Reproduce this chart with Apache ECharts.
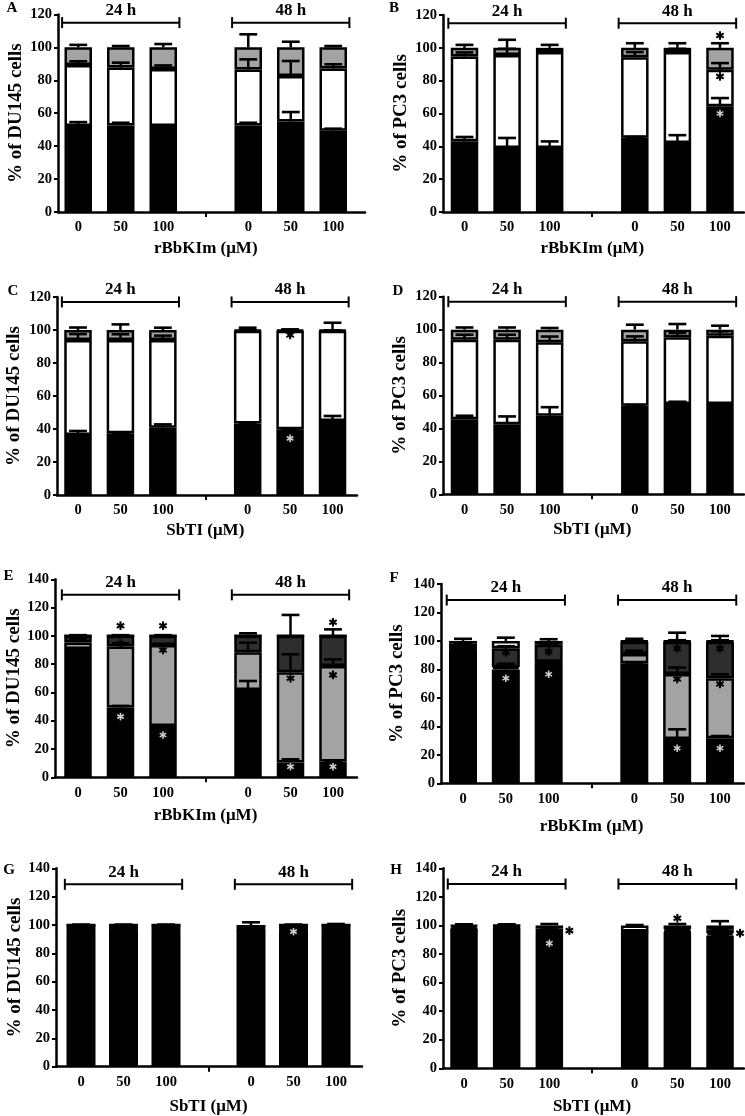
<!DOCTYPE html>
<html><head><meta charset="utf-8">
<script src="https://cdn.jsdelivr.net/npm/echarts@6/dist/echarts.min.js"></script>
<style>html,body{margin:0;padding:0;background:#fff}#c{width:745px;height:1116px}</style>
</head><body><div id="c"></div>
<script>
// ---------- shared labels ----------
const doseLabels = ['0', '50', '100', '', '0', '50', '100'];
const groupLabels = ['24 h', '48 h'];
const groupSpans = [[0, 2], [4, 6]];

// ---------- Panel A : DU145, rBbKIm, cell cycle ----------
const A_G1 = [52.2, 52.6, 52.2, 52.6, 55.0, 49.4];
const A_S = [37.1, 35.1, 34.6, 34.0, 27.6, 37.8];
const A_G2M = [10.7, 12.3, 13.2, 13.4, 17.4, 12.8];
const A_sdG1 = [2.4, 1.6, 0.4, 1.6, 5.7, 1.2];
const A_sdS = [2.2, 3.0, 2.2, 6.1, 9.1, 2.5];
const A_sdG2M = [1.5, 0.8, 2.0, 7.9, 3.4, 0.8];
const A_stars = [];

// ---------- Panel B : PC3, rBbKIm, cell cycle ----------
const B_G1 = [43.1, 39.0, 39.0, 45.3, 42.1, 64.4];
const B_S = [51.6, 56.7, 58.4, 49.0, 55.3, 22.2];
const B_G2M = [5.3, 4.3, 2.6, 5.7, 2.6, 13.4];
const B_sdG1 = [2.6, 6.1, 4.0, 0.4, 4.7, 5.0];
const B_sdS = [2.5, 3.7, 1.4, 3.1, 2.0, 4.1];
const B_sdG2M = [1.8, 4.9, 1.8, 2.8, 2.8, 2.8];
// [bar index, y value, colour 0=black 1=white, side 0=centre 1=right]
const B_stars = [[5, 107.5, 0, 0], [5, 82.6, 0, 0], [5, 60.0, 1, 0]];

// ---------- Panel C : DU145, SbTI, cell cycle ----------
const C_G1 = [36.4, 37.4, 40.8, 43.4, 39.8, 44.8];
const C_S = [57.6, 56.6, 53.2, 56.1, 59.7, 54.7];
const C_G2M = [6.0, 6.0, 6.0, 0.5, 0.5, 0.5];
const C_sdG1 = [2.4, 0.3, 2.0, 0.3, 0.3, 3.1];
const C_sdS = [3.5, 3.4, 2.6, 0.3, 0.3, 0.3];
const C_sdG2M = [1.5, 3.4, 1.4, 1.4, 0.4, 4.4];
const C_stars = [[4, 97.0, 0, 0], [4, 34.3, 1, 0]];

// ---------- Panel D : PC3, SbTI, cell cycle ----------
const D_G1 = [45.6, 42.6, 47.7, 53.8, 54.8, 54.8];
const D_S = [48.3, 51.3, 44.6, 39.1, 40.5, 41.5];
const D_G2M = [6.1, 6.1, 7.7, 7.1, 4.7, 3.7];
const D_sdG1 = [2.1, 4.7, 5.2, 0.4, 1.4, 0.4];
const D_sdS = [3.0, 3.0, 3.5, 3.0, 2.7, 2.7];
const D_sdG2M = [1.3, 1.3, 1.0, 3.0, 3.4, 2.4];
const D_stars = [];

// ---------- Panel E : DU145, rBbKIm, apoptosis ----------
const E_viable = [90.7, 49.3, 36.3, 61.7, 10.4, 11.1];
const E_early = [4.7, 43.1, 57.3, 26.7, 63.8, 67.6];
const E_late = [4.6, 7.6, 6.4, 11.6, 25.8, 21.3];
const E_necro = [0, 0, 0, 0, 0, 0];
const E_sdViable = [0.3, 1.2, 0.3, 6.4, 2.3, 0.4];
const E_sdEarly = [2.5, 2.4, 0.5, 6.8, 12.8, 4.7];
const E_sdLate = [0.5, 0.5, 0.5, 1.8, 14.8, 4.6];
const E_sdNecro = [0, 0, 0, 0, 0, 0];
const E_stars = [[1, 107.2, 0, 0], [1, 94.5, 0, 0], [1, 42.9, 1, 0],
                 [2, 107.2, 0, 0], [2, 90.0, 0, 0], [2, 29.9, 1, 0],
                 [4, 70.0, 0, 0], [4, 7.5, 1, 0],
                 [5, 109.6, 0, 0], [5, 72.4, 0, 0], [5, 7.5, 1, 0]];

// ---------- Panel F : PC3, rBbKIm, apoptosis ----------
const F_viable = [94.0, 80.0, 84.8, 84.3, 31.1, 31.6];
const F_early = [0.5, 1.5, 0.5, 6.5, 45.7, 42.2];
const F_late = [3.5, 13.3, 12.0, 8.7, 22.7, 25.7];
const F_necro = [2.0, 5.2, 2.7, 0.5, 0.5, 0.5];
const F_sdViable = [0.8, 4.0, 0.3, 0.5, 6.8, 1.6];
const F_sdEarly = [0.3, 0.3, 0.3, 2.4, 4.5, 2.8];
const F_sdLate = [0.3, 1.5, 0.5, 2.0, 1.0, 1.0];
const F_sdNecro = [1.5, 2.3, 1.2, 0.5, 5.8, 3.5];
const F_stars = [[1, 92.0, 0, 0], [1, 73.8, 1, 0], [2, 92.5, 0, 0], [2, 76.6, 1, 0],
                 [4, 94.8, 0, 0], [4, 73.3, 0, 0], [4, 24.6, 1, 0],
                 [5, 94.8, 0, 0], [5, 69.8, 0, 0], [5, 24.6, 1, 0]];

// ---------- Panel G : DU145, SbTI, apoptosis ----------
const G_viable = [96.8, 96.8, 96.8, 97.0, 96.8, 96.8];
const G_early = [0.5, 0.5, 0.5, 0.3, 0.5, 0.5];
const G_late = [2.7, 2.7, 2.7, 0.7, 2.7, 2.7];
const G_necro = [0, 0, 0, 2.0, 0, 0];
const G_sdViable = [0.2, 0.2, 0.2, 0.2, 0.2, 0.2];
const G_sdEarly = [0, 0, 0, 0, 0, 0];
const G_sdLate = [0.3, 0.3, 0.3, 0.3, 0.3, 0.7];
const G_sdNecro = [0, 0, 0, 1.9, 0, 0];
const G_stars = [[4, 95.3, 1, 0]];

// ---------- Panel H : PC3, SbTI, apoptosis ----------
const H_viable = [97.5, 98.5, 95.7, 95.2, 95.5, 93.0];
const H_early = [0.5, 0.5, 0.5, 0.3, 0.5, 1.5];
const H_late = [1.5, 1.0, 1.8, 0.3, 1.3, 2.5];
const H_necro = [0.5, 0, 2.0, 4.2, 2.7, 3.0];
const H_sdViable = [0.3, 0.3, 0.5, 0.3, 0.3, 0.5];
const H_sdEarly = [0, 0, 0, 0, 0, 0];
const H_sdLate = [0.3, 0.3, 0.5, 0.3, 0.5, 0.8];
const H_sdNecro = [0.8, 0.8, 1.0, 0.3, 1.0, 3.0];
const H_stars = [[2, 96.4, 0, 1], [2, 87.5, 1, 0], [4, 105.0, 0, 0], [5, 94.6, 0, 1]];

// ---------- styling / layout ----------
const FONT = '"Liberation Serif", "Times New Roman", serif';
const CYCLE_COLORS = ['#000000', '#ffffff', '#a3a3a3'];
const APOP_COLORS = ['#000000', '#a3a3a3', '#2e2e2e', '#ffffff'];
const CYCLE_NAMES = ['G0/G1', 'S', 'G2/M'];
const APOP_NAMES = ['Viable', 'Early apoptosis', 'Late apoptosis', 'Necrosis'];

const panels = [
  {letter: 'A', lp: [12, 8.5], axisX: 58, axisEnd: 365, top: 14.4, y0: 212, c0: 78.25, slot: 42.5, barW: 27.5,
   ymax: 120, bracketY: 115, yName: '% of DU145 cells', xName: 'rBbKIm (μM)', yGap: 32, xGap: 28,
   segs: [A_G1, A_S, A_G2M], sds: [A_sdG1, A_sdS, A_sdG2M], colors: CYCLE_COLORS, names: CYCLE_NAMES, stars: A_stars},
  {letter: 'B', lp: [394, 8.5], axisX: 443, axisEnd: 744, top: 15, y0: 212, c0: 464.5, slot: 42.58, barW: 27.5,
   ymax: 120, bracketY: 115, yName: '% of PC3 cells', xName: 'rBbKIm (μM)', yGap: 32, xGap: 28,
   segs: [B_G1, B_S, B_G2M], sds: [B_sdG1, B_sdS, B_sdG2M], colors: CYCLE_COLORS, names: CYCLE_NAMES, stars: B_stars},
  {letter: 'C', lp: [13, 291], axisX: 57, axisEnd: 357, top: 297, y0: 495, c0: 78, slot: 42.42, barW: 27.5,
   ymax: 120, bracketY: 117, yName: '% of DU145 cells', xName: 'SbTI (μM)', yGap: 33, xGap: 27,
   segs: [C_G1, C_S, C_G2M], sds: [C_sdG1, C_sdS, C_sdG2M], colors: CYCLE_COLORS, names: CYCLE_NAMES, stars: C_stars},
  {letter: 'D', lp: [398, 291], axisX: 443, axisEnd: 744, top: 296.7, y0: 494.3, c0: 464.5, slot: 42.58, barW: 27.5,
   ymax: 120, bracketY: 117, yName: '% of PC3 cells', xName: 'SbTI (μM)', yGap: 33, xGap: 27,
   segs: [D_G1, D_S, D_G2M], sds: [D_sdG1, D_sdS, D_sdG2M], colors: CYCLE_COLORS, names: CYCLE_NAMES, stars: D_stars},
  {letter: 'E', lp: [8.5, 576], axisX: 55, axisEnd: 357, top: 579.3, y0: 777.3, c0: 78, slot: 42.5, barW: 27.5,
   ymax: 140, bracketY: 129, yName: '% of DU145 cells', xName: 'rBbKIm (μM)', yGap: 30, xGap: 30,
   segs: [E_viable, E_early, E_late, E_necro], sds: [E_sdViable, E_sdEarly, E_sdLate, E_sdNecro], colors: APOP_COLORS, names: APOP_NAMES, stars: E_stars},
  {letter: 'F', lp: [394, 578.5], axisX: 441, axisEnd: 744, top: 584, y0: 783.3, c0: 463, slot: 42.83, barW: 28,
   ymax: 140, bracketY: 128.7, yName: '% of PC3 cells', xName: 'rBbKIm (μM)', yGap: 34, xGap: 35,
   segs: [F_viable, F_early, F_late, F_necro], sds: [F_sdViable, F_sdEarly, F_sdLate, F_sdNecro], colors: APOP_COLORS, names: APOP_NAMES, stars: F_stars},
  {letter: 'G', lp: [9, 870], axisX: 56, axisEnd: 362, top: 868.3, y0: 1066.7, c0: 81, slot: 42.5, barW: 29,
   ymax: 140, bracketY: 128.7, yName: '% of DU145 cells', xName: 'SbTI (μM)', yGap: 28, xGap: 31,
   segs: [G_viable, G_early, G_late, G_necro], sds: [G_sdViable, G_sdEarly, G_sdLate, G_sdNecro], colors: APOP_COLORS, names: APOP_NAMES, stars: G_stars},
  {letter: 'H', lp: [396, 870], axisX: 443, axisEnd: 744, top: 868.3, y0: 1068.3, c0: 464, slot: 42.67, barW: 27.5,
   ymax: 140, bracketY: 129, yName: '% of PC3 cells', xName: 'SbTI (μM)', yGap: 33, xGap: 30,
   segs: [H_viable, H_early, H_late, H_necro], sds: [H_sdViable, H_sdEarly, H_sdLate, H_sdNecro], colors: APOP_COLORS, names: APOP_NAMES, stars: H_stars}
];

const slotOf = j => (j < 3 ? j : j + 1);
const withGap = a => [a[0], a[1], a[2], null, a[3], a[4], a[5]];

const boldText = (size) => ({color: '#000', fontFamily: FONT, fontWeight: 'bold', fontSize: size});

function renderErr(params, api) {
  const x = api.value(0), top = api.value(1), sd = api.value(2);
  if (!(sd > 0)) return null;
  const p0 = api.coord([x, top]);
  const p1 = api.coord([x, top + sd]);
  const band = api.size([1, 0])[0];
  const h = band * 0.21;
  return {type: 'group', children: [
    {type: 'line', shape: {x1: p0[0], y1: p0[1], x2: p1[0], y2: p1[1]}, style: {stroke: '#000', lineWidth: 2.5}},
    {type: 'line', shape: {x1: p1[0] - h, y1: p1[1], x2: p1[0] + h, y2: p1[1]}, style: {stroke: '#000', lineWidth: 2.6}}
  ]};
}

function renderStar(params, api) {
  const x = api.value(0), y = api.value(1), white = api.value(2), side = api.value(3);
  const p = api.coord([x, y]);
  const band = api.size([1, 0])[0];
  const cx = p[0] + side * band * 0.47, cy = p[1];
  const r = white ? 3.8 : 4.3;
  const col = white ? '#cfcfcf' : '#000';
  const kids = [];
  [90, 30, 150].forEach(a => {
    const rad = a * Math.PI / 180;
    const dx = Math.cos(rad) * r, dy = Math.sin(rad) * r;
    kids.push({type: 'line', shape: {x1: cx - dx, y1: cy - dy, x2: cx + dx, y2: cy + dy},
      style: {stroke: col, lineWidth: white ? 1.6 : 2.1}});
  });
  return {type: 'group', children: kids};
}

function renderBracket(params, api) {
  const s = api.value(0), e = api.value(1), y = api.value(2), li = api.value(3);
  const pS = api.coord([s, y]), pE = api.coord([e, y]);
  const band = api.size([1, 0])[0];
  const x1 = pS[0] - band * 0.38, x2 = pE[0] + band * 0.38, yy = pS[1];
  return {type: 'group', children: [
    {type: 'line', shape: {x1: x1, y1: yy, x2: x2, y2: yy}, style: {stroke: '#000', lineWidth: 2}},
    {type: 'line', shape: {x1: x1, y1: yy - 5.5, x2: x1, y2: yy + 5.5}, style: {stroke: '#000', lineWidth: 2}},
    {type: 'line', shape: {x1: x2, y1: yy - 5.5, x2: x2, y2: yy + 5.5}, style: {stroke: '#000', lineWidth: 2}},
    {type: 'text', style: {text: groupLabels[li], x: (x1 + x2) / 2, y: yy - 12,
      align: 'center', verticalAlign: 'middle', textAlign: 'center', textVerticalAlign: 'middle',
      font: 'bold 17px ' + FONT, fill: '#000'}}
  ]};
}

const grid = [], xAxis = [], yAxis = [], series = [], graphic = [];

panels.forEach((p, i) => {
  const ga = 2 * i, gb = 2 * i + 1;
  const h = p.y0 - p.top;
  grid.push({left: p.axisX, top: p.top, width: p.axisEnd - p.axisX, height: h, containLabel: false, outerBoundsMode: 'none'});
  grid.push({left: p.c0 - p.slot / 2, top: p.top, width: p.slot * 7, height: h, containLabel: false, outerBoundsMode: 'none'});

  xAxis.push({gridIndex: ga, type: 'value', min: 0, max: 1,
    axisLine: {show: true, onZero: false, lineStyle: {color: '#000', width: 2.5}},
    axisTick: {show: false}, axisLabel: {show: false}, splitLine: {show: false}});
  xAxis.push({gridIndex: gb, type: 'category', data: doseLabels,
    axisLine: {show: false},
    axisTick: {show: true, alignWithLabel: true, interval: (idx) => idx === 3, length: 5, lineStyle: {color: '#000', width: 2}},
    axisLabel: Object.assign({interval: 0, margin: 8}, boldText(14.5)),
    splitLine: {show: false},
    name: p.xName, nameLocation: 'middle', nameGap: p.xGap, nameTextStyle: boldText(17)});

  yAxis.push({gridIndex: ga, type: 'value', min: 0, max: p.ymax, interval: 20,
    axisLine: {show: true, lineStyle: {color: '#000', width: 2.5}},
    axisTick: {show: true, length: 4, lineStyle: {color: '#000', width: 2}},
    axisLabel: Object.assign({margin: 6}, boldText(14.5)),
    splitLine: {show: false},
    name: p.yName, nameLocation: 'middle', nameGap: p.yGap, nameRotate: 90, nameTextStyle: boldText(19)});
  yAxis.push({gridIndex: gb, type: 'value', min: 0, max: p.ymax, show: false});

  // stacked bars
  p.segs.forEach((vals, s) => {
    series.push({type: 'bar', name: p.names[s], xAxisIndex: gb, yAxisIndex: gb, stack: 'st' + i,
      data: withGap(vals), barWidth: p.barW, silent: true, z: 2,
      itemStyle: {color: p.colors[s], borderColor: '#000', borderWidth: 2.5}});
  });

  // error bars (upward, from each segment top)
  const errData = [];
  for (let j = 0; j < 6; j++) {
    let cum = 0;
    p.segs.forEach((vals, s) => {
      cum += vals[j];
      errData.push([slotOf(j), cum, p.sds[s][j]]);
    });
  }
  series.push({type: 'custom', xAxisIndex: gb, yAxisIndex: gb, data: errData, renderItem: renderErr,
    encode: {x: 0, y: 1}, clip: false, silent: true, z: 5});

  // significance stars
  const starData = p.stars.map(st => [slotOf(st[0]), st[1], st[2], st[3]]);
  series.push({type: 'custom', xAxisIndex: gb, yAxisIndex: gb, data: starData, renderItem: renderStar,
    encode: {x: 0, y: 1}, clip: false, silent: true, z: 6});

  // time brackets
  const brData = groupSpans.map((sp, k) => [sp[0], sp[1], p.bracketY, k]);
  series.push({type: 'custom', xAxisIndex: gb, yAxisIndex: gb, data: brData, renderItem: renderBracket,
    encode: {x: 0, y: 2}, clip: false, silent: true, z: 6});

  graphic.push({type: 'text', x: p.lp[0], y: p.lp[1],
    style: {text: p.letter, font: 'bold 15px ' + FONT, fill: '#000',
      align: 'center', verticalAlign: 'middle', textAlign: 'center', textVerticalAlign: 'middle'}});
});

const chart = echarts.init(document.getElementById('c'), null, {renderer: 'canvas'});
chart.setOption({
  backgroundColor: '#ffffff',
  animation: false,
  grid: grid, xAxis: xAxis, yAxis: yAxis, series: series, graphic: graphic
});
</script>
</body></html>
